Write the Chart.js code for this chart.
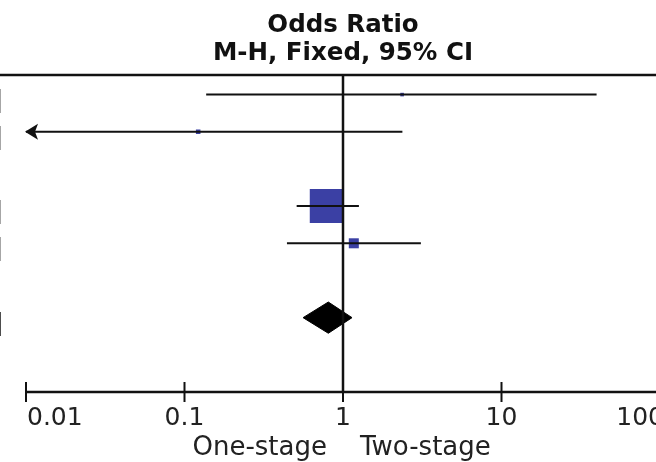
<!DOCTYPE html>
<html>
<head>
<meta charset="utf-8">
<script src="https://cdn.jsdelivr.net/npm/chart.js@4/dist/chart.umd.min.js"></script>
<style>
  html, body { margin: 0; padding: 0; overflow: hidden; background: #fff; width: 656px; height: 462px; }
  #wrap { position: absolute; left: 0; top: 0; width: 680px; height: 462px; }
  canvas { display: block; }
</style>
</head>
<body>
<div id="wrap"><canvas id="c" width="680" height="462"></canvas></div>
<script>
// ---- data ----
const studyRows   = [0, 1, 3, 4];                 // row index of each study
const oddsRatio   = [2.36, 0.122, 0.79, 1.17];
const ciLower     = [0.137, 0.005, 0.51, 0.443];
const ciUpper     = [39.8, 2.37, 1.26, 3.10];
const weights     = [1.0, 1.6, 90.0, 7.8];        // % weight (square area)
const totalRow    = 6;
const totalOR     = 0.808;
const totalLower  = 0.56;
const totalUpper  = 1.14;
const tickValues  = [0.01, 0.1, 1, 10, 100];
const tickLabels  = ['0.01', '0.1', '1', '10', '100'];
const favourLabels = ['One-stage', 'Two-stage'];
const titleLines  = ['Odds Ratio', 'M-H, Fixed, 95% CI'];
const edgeRows    = [0, 1, 3, 4, 6];              // rows whose table text ends at the left edge

const FONT = '"DejaVu Sans", Verdana, sans-serif';
const BLUE = '#3b40a4';
const xMin = tickValues[0], xMax = tickValues[tickValues.length - 1];

const datasets = [];
// null line at OR = 1
datasets.push({
  data: [{x: 1, y: -0.5}, {x: 1, y: 8}],
  showLine: true, borderColor: '#111', borderWidth: 2.5, pointRadius: 0
});
// confidence interval lines
studyRows.forEach((r, i) => {
  datasets.push({
    data: [{x: ciLower[i], y: r}, {x: ciUpper[i], y: r}],
    showLine: true, borderColor: '#111', borderWidth: 2, pointRadius: 0
  });
});
// weighted squares
const wMax = Math.max(...weights);
datasets.push({
  data: studyRows.map((r, i) => ({x: oddsRatio[i], y: r})),
  showLine: false,
  pointStyle: 'rect',
  pointRadius: weights.map(w => 34 * Math.sqrt(w / wMax) / Math.SQRT2),
  pointBackgroundColor: BLUE,
  pointBorderWidth: 0,
  pointBorderColor: BLUE
});
// pooled diamond
const dh = 0.42;
datasets.push({
  data: [
    {x: totalLower, y: totalRow}, {x: totalOR, y: totalRow - dh},
    {x: totalUpper, y: totalRow}, {x: totalOR, y: totalRow + dh},
    {x: totalLower, y: totalRow}
  ],
  showLine: true, fill: 'shape', backgroundColor: '#000',
  borderColor: '#000', borderWidth: 1, pointRadius: 0, tension: 0
});

const decor = {
  id: 'decor',
  afterDatasetsDraw(chart) {
    const ctx = chart.ctx, xs = chart.scales.x, ys = chart.scales.y, a = chart.chartArea;
    const W = chart.width;
    const x1 = xs.getPixelForValue(1);
    ctx.save();
    ctx.strokeStyle = '#111';
    ctx.fillStyle = '#111';
    // header rule
    ctx.lineWidth = 2.5;
    ctx.beginPath(); ctx.moveTo(0, a.top - 1); ctx.lineTo(W, a.top - 1); ctx.stroke();
    // axis line
    ctx.beginPath(); ctx.moveTo(a.left, a.bottom); ctx.lineTo(W, a.bottom); ctx.stroke();
    // ticks
    ctx.lineWidth = 2;
    tickValues.forEach(v => {
      const px = xs.getPixelForValue(v);
      ctx.beginPath(); ctx.moveTo(px, a.bottom - 10); ctx.lineTo(px, a.bottom + 10); ctx.stroke();
    });
    // tick labels
    ctx.font = '25px ' + FONT;
    ctx.fillStyle = '#222';
    ctx.textBaseline = 'alphabetic';
    const last = tickValues.length - 1;
    tickValues.forEach((v, i) => {
      const px = xs.getPixelForValue(v);
      let tx = px;
      if (i === 0) { ctx.textAlign = 'left'; tx = px + 1; }
      else if (i === last) { ctx.textAlign = 'right'; tx = px + 4; }
      else ctx.textAlign = 'center';
      ctx.fillText(tickLabels[i], tx, a.bottom + 33);
    });
    // favour labels
    ctx.font = '26px ' + FONT;
    ctx.textAlign = 'right';
    ctx.fillText(favourLabels[0], x1 - 16, a.bottom + 63);
    ctx.textAlign = 'left';
    ctx.fillText(favourLabels[1], x1 + 17, a.bottom + 63);
    // titles
    ctx.font = 'bold 24.5px ' + FONT;
    ctx.fillStyle = '#111';
    ctx.textAlign = 'center';
    ctx.fillText(titleLines[0], x1, 32);
    ctx.fillText(titleLines[1], x1, 60);
    // arrows for CIs running past the axis minimum
    studyRows.forEach((r, i) => {
      if (ciLower[i] < xMin) {
        const tip = a.left - 1, y = ys.getPixelForValue(r);
        ctx.beginPath();
        ctx.moveTo(tip, y);
        ctx.lineTo(tip + 13, y - 8);
        ctx.lineTo(tip + 10, y);
        ctx.lineTo(tip + 13, y + 8);
        ctx.closePath();
        ctx.fill();
      }
    });
    // clipped right edge of the (cropped) table text
    ctx.textAlign = 'right';
    edgeRows.forEach(r => {
      const y = ys.getPixelForValue(r) + 14;
      const bold = r === totalRow;
      ctx.font = (bold ? 'bold ' : '') + '27px ' + FONT;
      ctx.fillStyle = bold ? '#111' : '#888';
      ctx.fillText(']', 3, y);
    });
    ctx.restore();
  }
};

new Chart(document.getElementById('c'), {
  type: 'scatter',
  data: { datasets },
  options: {
    responsive: false,
    animation: false,
    devicePixelRatio: 1,
    layout: { autoPadding: false, padding: { left: 26, right: 20, top: 76, bottom: 70 } },
    plugins: { legend: { display: false }, tooltip: { enabled: false }, title: { display: false } },
    scales: {
      x: { type: 'logarithmic', min: xMin, max: xMax, display: false },
      y: { type: 'linear', min: -0.5, max: 8, reverse: true, display: false }
    }
  },
  plugins: [decor]
});
</script>
</body>
</html>
